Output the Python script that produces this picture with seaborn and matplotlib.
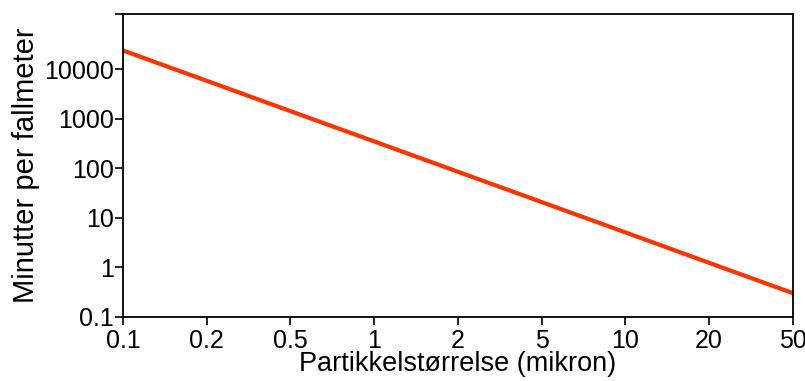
import numpy as np
import pandas as pd
import matplotlib
matplotlib.use("Agg")
import matplotlib.pyplot as plt
import seaborn as sns

# particle sizes (microns), drawn evenly spaced as in the original
sizes = ["0.1", "0.2", "0.5", "1", "2", "5", "10", "20", "50"]
# minutes per metre of fall at each tick
minutes = [24000, 5860, 1430, 350, 85.5, 20.9, 5.10, 1.24, 0.303]

ytick_vals = [0.1, 1, 10, 100, 1000, 10000, 1.3e5]
ytick_labels = ["0.1", "1", "10", "100", "1000", "10000", ""]

df = pd.DataFrame({"pos": np.arange(len(sizes)), "minutes": minutes})

sns.set_style("ticks")
plt.rcParams["font.family"] = ["Liberation Sans", "DejaVu Sans"]
plt.rcParams["text.color"] = "black"
plt.rcParams["axes.labelcolor"] = "black"
plt.rcParams["xtick.color"] = "black"
plt.rcParams["ytick.color"] = "black"

fig = plt.figure(figsize=(8.05, 3.81), dpi=100)
ax = fig.add_axes([0.1528, 0.168, 0.985 - 0.1528, 0.963 - 0.168])

sns.lineplot(data=df, x="pos", y="minutes", color="#ff3300", linewidth=3, ax=ax)

ax.set_yscale("log")
ax.set_xlim(0, len(sizes) - 1)
ax.set_ylim(0.1, 1.3e5)

ax.set_xticks(df["pos"])
ax.set_xticklabels(sizes)
ax.set_yticks(ytick_vals)
ax.set_yticklabels(ytick_labels)
ax.minorticks_off()

ax.tick_params(axis="both", labelsize=18, length=6, width=1.2, direction="out")
ax.tick_params(axis="y", pad=0.5)
ax.tick_params(axis="x", pad=3)

for s in ax.spines.values():
    s.set_visible(True)
    s.set_linewidth(1.3)
    s.set_color("black")

ax.set_xlabel("Partikkelstørrelse (mikron)", fontsize=19.5, labelpad=-2)
ax.set_ylabel("Minutter per fallmeter", fontsize=21, labelpad=3)

fig.savefig("out.png", dpi=100)
